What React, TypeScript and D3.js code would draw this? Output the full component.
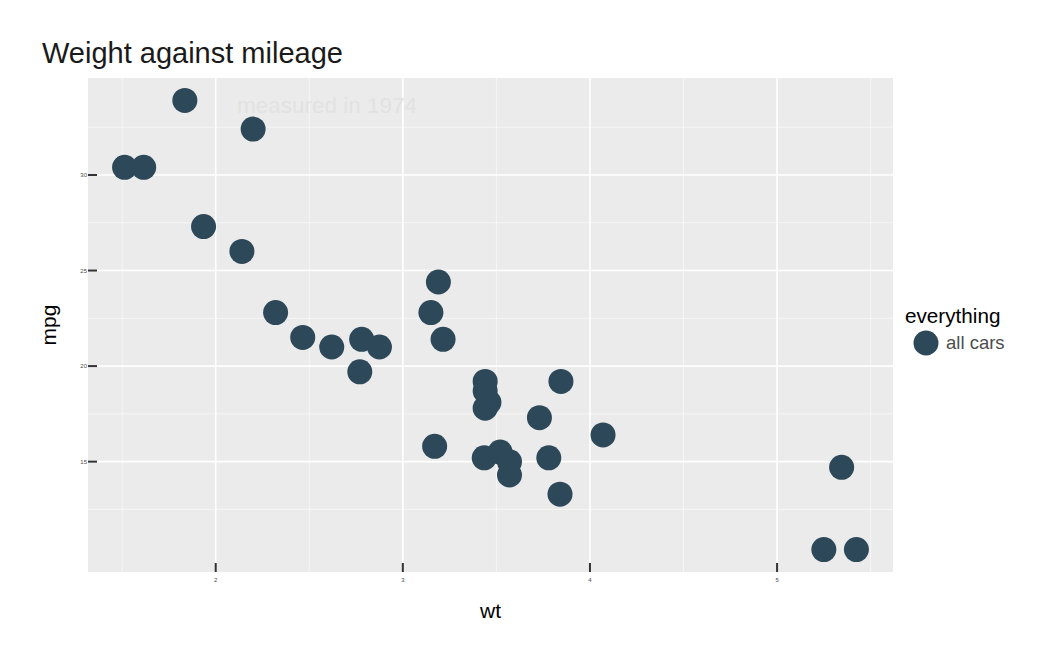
import { useRef, useEffect } from "react";
import * as d3 from "d3";

// mtcars: weight (1000 lbs) and miles per gallon
const wt = [
  2.62, 2.875, 2.32, 3.215, 3.44, 3.46, 3.57, 3.19, 3.15, 3.44, 3.44, 4.07,
  3.73, 3.78, 5.25, 5.424, 5.345, 2.2, 1.615, 1.835, 2.465, 3.52, 3.435, 3.84,
  3.845, 1.935, 2.14, 1.513, 3.17, 2.77, 3.57, 2.78,
];
const mpg = [
  21.0, 21.0, 22.8, 21.4, 18.7, 18.1, 14.3, 24.4, 22.8, 19.2, 17.8, 16.4, 17.3,
  15.2, 10.4, 10.4, 14.7, 32.4, 30.4, 33.9, 21.5, 15.5, 15.2, 13.3, 19.2, 27.3,
  26.0, 30.4, 15.8, 19.7, 15.0, 21.4,
];
const xTicks = [2, 3, 4, 5];
const yTicks = [15, 20, 25, 30];
const xMinor = [1.5, 2.5, 3.5, 4.5, 5.5];
const yMinor = [12.5, 17.5, 22.5, 27.5, 32.5];

const W = 1050;
const H = 660;
const FONT = "'Liberation Sans', Arial, Helvetica, sans-serif";
const POINT = "#2d4858";

export default function App() {
  const svgRef = useRef<SVGSVGElement>(null);

  useEffect(() => {
    if (!svgRef.current) return;
    const svg = d3.select(svgRef.current);
    svg.selectAll("*").remove();

    const panel = { left: 88, right: 893, top: 78, bottom: 572 };

    // ggplot-style 5% expansion
    const [xmin, xmax] = d3.extent(wt) as [number, number];
    const [ymin, ymax] = d3.extent(mpg) as [number, number];
    const xPad = (xmax - xmin) * 0.05;
    const yPad = (ymax - ymin) * 0.05;

    const x = d3
      .scaleLinear()
      .domain([xmin - xPad, xmax + xPad])
      .range([panel.left, panel.right]);
    const y = d3
      .scaleLinear()
      .domain([ymin - yPad, ymax + yPad])
      .range([panel.bottom, panel.top]);

    svg
      .append("rect")
      .attr("width", W)
      .attr("height", H)
      .attr("fill", "#ffffff");

    // panel background
    svg
      .append("rect")
      .attr("x", panel.left)
      .attr("y", panel.top)
      .attr("width", panel.right - panel.left)
      .attr("height", panel.bottom - panel.top)
      .attr("fill", "#ebebeb");

    const grid = svg.append("g").attr("stroke", "#ffffff");
    grid
      .selectAll("line.xminor")
      .data(xMinor)
      .join("line")
      .attr("x1", (d) => x(d))
      .attr("x2", (d) => x(d))
      .attr("y1", panel.top)
      .attr("y2", panel.bottom)
      .attr("stroke-width", 0.8)
      .attr("stroke-opacity", 0.7);
    grid
      .selectAll("line.yminor")
      .data(yMinor)
      .join("line")
      .attr("y1", (d) => y(d))
      .attr("y2", (d) => y(d))
      .attr("x1", panel.left)
      .attr("x2", panel.right)
      .attr("stroke-width", 0.8)
      .attr("stroke-opacity", 0.7);
    grid
      .selectAll("line.xmajor")
      .data(xTicks)
      .join("line")
      .attr("x1", (d) => x(d))
      .attr("x2", (d) => x(d))
      .attr("y1", panel.top)
      .attr("y2", panel.bottom)
      .attr("stroke-width", 1.6);
    grid
      .selectAll("line.ymajor")
      .data(yTicks)
      .join("line")
      .attr("y1", (d) => y(d))
      .attr("y2", (d) => y(d))
      .attr("x1", panel.left)
      .attr("x2", panel.right)
      .attr("stroke-width", 1.6);

    // faint annotation inside the panel
    svg
      .append("text")
      .attr("x", 237)
      .attr("y", 113)
      .attr("font-family", FONT)
      .attr("font-size", 22.5)
      .attr("fill", "#e2e2e2")
      .text("measured in 1974");

    // ticks pointing inward
    const ticks = svg.append("g").attr("stroke", "#333333").attr("stroke-width", 2);
    ticks
      .selectAll("line.xt")
      .data(xTicks)
      .join("line")
      .attr("x1", (d) => x(d))
      .attr("x2", (d) => x(d))
      .attr("y1", panel.bottom - 9)
      .attr("y2", panel.bottom);
    ticks
      .selectAll("line.yt")
      .data(yTicks)
      .join("line")
      .attr("y1", (d) => y(d))
      .attr("y2", (d) => y(d))
      .attr("x1", panel.left)
      .attr("x2", panel.left + 9);

    svg
      .append("g")
      .selectAll("text")
      .data(xTicks)
      .join("text")
      .attr("x", (d) => x(d))
      .attr("y", panel.bottom + 10)
      .attr("text-anchor", "middle")
      .attr("font-family", FONT)
      .attr("font-size", 6)
      .attr("fill", "#4d4d4d")
      .text((d) => d);
    svg
      .append("g")
      .selectAll("text")
      .data(yTicks)
      .join("text")
      .attr("x", panel.left - 1)
      .attr("y", (d) => y(d) + 2)
      .attr("text-anchor", "end")
      .attr("font-family", FONT)
      .attr("font-size", 6)
      .attr("fill", "#4d4d4d")
      .text((d) => d);

    // points
    svg
      .append("g")
      .attr("fill", POINT)
      .selectAll("circle")
      .data(wt.map((w, i) => [w, mpg[i]]))
      .join("circle")
      .attr("cx", (d) => x(d[0]))
      .attr("cy", (d) => y(d[1]))
      .attr("r", 12.5);

    // titles
    svg
      .append("text")
      .attr("x", 42)
      .attr("y", 63)
      .attr("font-family", FONT)
      .attr("font-size", 29)
      .attr("fill", "#1a1a1a")
      .text("Weight against mileage");
    svg
      .append("text")
      .attr("x", (panel.left + panel.right) / 2)
      .attr("y", 618)
      .attr("text-anchor", "middle")
      .attr("font-family", FONT)
      .attr("font-size", 21)
      .attr("fill", "#000000")
      .text("wt");
    svg
      .append("text")
      .attr("transform", `translate(56,${(panel.top + panel.bottom) / 2}) rotate(-90)`)
      .attr("text-anchor", "middle")
      .attr("font-family", FONT)
      .attr("font-size", 21)
      .attr("fill", "#000000")
      .text("mpg");

    // legend
    svg
      .append("text")
      .attr("x", 905)
      .attr("y", 323)
      .attr("font-family", FONT)
      .attr("font-size", 20.7)
      .attr("fill", "#000000")
      .text("everything");
    svg
      .append("circle")
      .attr("cx", 926)
      .attr("cy", 343)
      .attr("r", 12.5)
      .attr("fill", POINT);
    svg
      .append("text")
      .attr("x", 946)
      .attr("y", 349)
      .attr("font-family", FONT)
      .attr("font-size", 18.5)
      .attr("fill", "#4d4d4d")
      .text("all cars");
  }, []);

  return (
    <svg
      ref={svgRef}
      width={W}
      height={H}
      style={{ position: "absolute", top: 0, left: 0 }}
    />
  );
}
